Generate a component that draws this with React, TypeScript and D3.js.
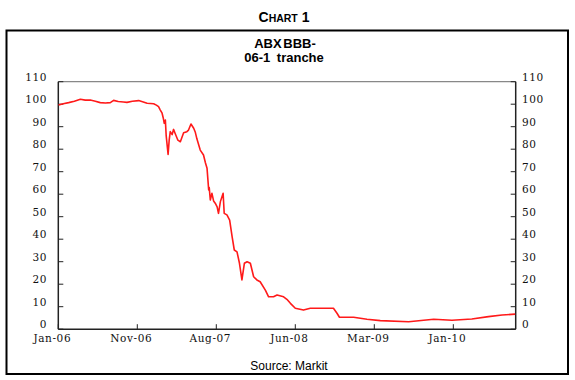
import React from "react";
import * as d3 from "d3";

const dates: string[] = [
  "2006-01-20","2006-02-06","2006-02-26","2006-03-19","2006-04-10","2006-04-28","2006-05-16","2006-06-04",
  "2006-06-22","2006-07-11","2006-07-29","2006-08-10","2006-08-27","2006-09-15","2006-09-28","2006-10-18",
  "2006-11-10","2006-11-27","2006-12-11","2007-01-04","2007-01-14","2007-01-22","2007-01-28","2007-02-04",
  "2007-02-08","2007-02-12","2007-02-16","2007-02-19","2007-02-26","2007-03-02","2007-03-06","2007-03-13",
  "2007-03-18","2007-03-24","2007-04-03","2007-04-12","2007-04-24","2007-05-06","2007-05-12","2007-05-21",
  "2007-05-31","2007-06-06","2007-06-12","2007-06-24","2007-07-06","2007-07-13","2007-07-19","2007-07-25",
  "2007-07-27","2007-07-31","2007-08-06","2007-08-12","2007-08-18","2007-08-25","2007-08-30","2007-09-06",
  "2007-09-16","2007-09-20","2007-09-30","2007-10-10","2007-10-19","2007-10-27","2007-11-06","2007-11-15",
  "2007-11-24","2007-12-03","2007-12-13","2007-12-25","2008-01-06","2008-01-18","2008-01-30","2008-02-18",
  "2008-03-01","2008-03-19","2008-04-01","2008-04-25","2008-05-07","2008-05-20","2008-06-07","2008-07-07",
  "2008-08-01","2008-09-19","2008-10-25","2008-11-07","2008-11-16","2009-01-07","2009-02-25","2009-04-15",
  "2009-07-28","2009-10-28","2010-01-03","2010-03-17","2010-05-17","2010-07-06","2010-08-23"
];

const values: number[] = [
  99.6,100.2,100.7,101.3,102.2,101.8,101.9,101.3,
  100.7,100.5,100.7,101.7,101.2,101.0,100.8,101.3,
  101.6,101.0,100.4,100.2,99.6,98.9,97.5,96.0,
  94.0,91.5,93.0,86.0,77.7,84.0,87.8,86.5,
  88.8,87.0,84.0,83.3,87.3,87.8,88.5,91.2,
  89.3,87.5,84.5,79.6,77.4,74.0,71.5,61.9,
  63.0,57.4,60.4,57.0,56.0,54.4,51.5,56.7,
  60.4,51.5,50.8,48.5,41.1,35.2,34.4,29.3,
  21.9,29.3,30.0,29.3,23.3,21.9,21.1,17.4,
  14.4,14.4,15.2,14.4,13.3,11.5,9.3,8.5,
  9.3,9.3,9.3,7.1,5.3,5.3,4.4,3.8,
  3.3,4.4,4.0,4.5,5.6,6.3,6.7
];

const xTickDates: string[] = ["2006-01-19","2006-11-05","2007-08-22","2008-06-07","2009-03-24","2010-01-08"];
const xTickLabels: string[] = ["Jan-06","Nov-06","Aug-07","Jun-08","Mar-09","Jan-10"];
const yTicks: number[] = [0,10,20,30,40,50,60,70,80,90,100,110];
const xDomain: string[] = ["2006-01-19","2010-08-25"];

const parse = d3.timeParse("%Y-%m-%d");

export default function App() {
  const W = 575, H = 380;
  const left = 58.3, right = 515.7, top = 81.7, bottom = 329.2;
  const x = d3.scaleTime().domain(xDomain.map((d) => parse(d) as Date)).range([left, right]);
  const y = d3.scaleLinear().domain([0, 110]).range([bottom, top]);
  const data = dates.map((d, i) => ({ date: parse(d) as Date, v: values[i] }));
  const line = d3.line<{ date: Date; v: number }>().x((d) => x(d.date)).y((d) => y(d.v));
  const sans = "'Liberation Sans', Arial, sans-serif";
  const serif = "'DejaVu Serif', serif";
  const tickFont = { fontFamily: serif, fontSize: 10.5, letterSpacing: 0.6, fill: "#111" } as const;

  return (
    <svg width={W} height={H} style={{ position: "absolute", left: 0, top: 0, background: "#fff" }}>
      <rect x={0} y={0} width={W} height={H} fill="#fff" />
      {/* Chart number */}
      <text x={284} y={22} textAnchor="middle" fontFamily={sans} fontWeight="bold" fill="#000">
        <tspan fontSize={14}>C</tspan>
        <tspan fontSize={10.5}>HART</tspan>
        <tspan fontSize={14}> 1</tspan>
      </text>
      {/* frame */}
      <rect x={6.5} y={30.5} width={561.5} height={343.5} fill="none" stroke="#000" strokeWidth={2} />
      {/* titles */}
      <text x={285} y={47.5} textAnchor="middle" fontFamily={sans} fontWeight="bold" fontSize={13} wordSpacing={-2} fill="#000">
        ABX BBB-
      </text>
      <text x={284} y={62} textAnchor="middle" fontFamily={sans} fontWeight="bold" fontSize={13} wordSpacing={3} fill="#000">
        06-1 tranche
      </text>
      {/* plot box */}
      <line x1={left} x2={right} y1={top} y2={top} stroke="#888" strokeWidth={1.2} />
      <line x1={left} x2={left} y1={top} y2={bottom} stroke="#222" strokeWidth={1.5} />
      <line x1={right} x2={right} y1={top} y2={bottom} stroke="#222" strokeWidth={1.5} />
      <line x1={left} x2={right} y1={bottom} y2={bottom} stroke="#222" strokeWidth={1.5} />
      {/* y ticks */}
      {yTicks.map((t) => (
        <g key={"y" + t}>
          <line x1={left} x2={left + 5} y1={y(t)} y2={y(t)} stroke="#222" strokeWidth={1} />
          <line x1={right - 5} x2={right} y1={y(t)} y2={y(t)} stroke="#222" strokeWidth={1} />
          <text x={47} y={y(t) - 4.5} dy="0.35em" textAnchor="end" {...tickFont}>{t}</text>
          <text x={522} y={y(t) - 4.5} dy="0.35em" textAnchor="start" {...tickFont}>{t}</text>
        </g>
      ))}
      {/* x ticks */}
      {xTickDates.map((d, i) => {
        const xx = x(parse(d) as Date);
        return (
          <g key={"x" + d}>
            <line x1={xx} x2={xx} y1={bottom} y2={bottom - 5} stroke="#222" strokeWidth={1} />
            <text x={xx - 6} y={342} textAnchor="middle" {...tickFont}>{xTickLabels[i]}</text>
          </g>
        );
      })}
      {/* series */}
      <path d={line(data) || ""} fill="none" stroke="#ff1a1a" strokeWidth={1.6} strokeLinejoin="round" />
      {/* source */}
      <text x={289} y={369.5} textAnchor="middle" fontFamily={sans} fontSize={12} fill="#000">
        Source: Markit
      </text>
    </svg>
  );
}
